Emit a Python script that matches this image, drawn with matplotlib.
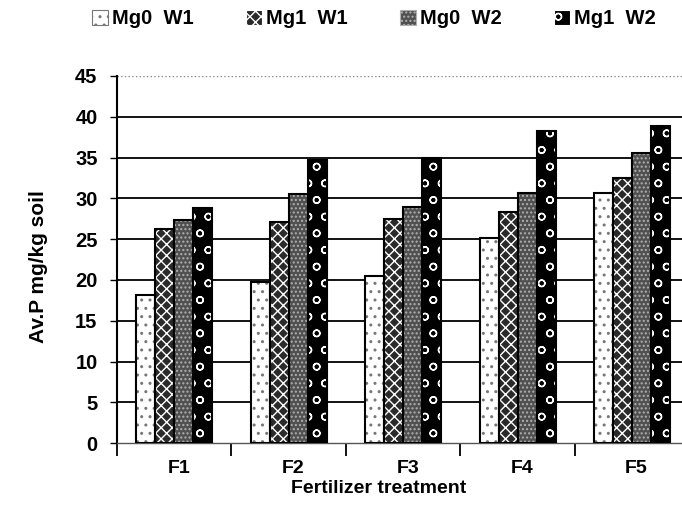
import numpy as np
import matplotlib
matplotlib.use("Agg")
from matplotlib import pyplot as plt
from matplotlib.patches import Patch

plt.rcParams['font.family'] = ['Liberation Sans', 'DejaVu Sans']
plt.rcParams['font.weight'] = 'bold'

# andmed
kategooriad = ["F1", "F2", "F3", "F4", "F5"]
seeriad = ["Mg0  W1", "Mg1  W1", "Mg0  W2", "Mg1  W2"]
mg0_w1 = [18.2, 19.8, 20.5, 25.2, 30.6]
mg1_w1 = [26.2, 27.1, 27.5, 28.3, 32.5]
mg0_w2 = [27.3, 30.5, 29.0, 30.7, 35.5]
mg1_w2 = [28.8, 34.7, 35.0, 38.3, 38.9]
vaartused = [mg0_w1, mg1_w1, mg0_w2, mg1_w2]

# stiilid: (taust, muster, mustri varv)
stiilid = [("white", "..", "#777777"),
           ("#2a2a2a", "xxx", "white"),
           ("#505050", "....", "#b0b0b0"),
           ("black", "o", "white")]

fig = plt.figure(figsize=(6.82, 5.13), dpi=100)
ax = fig.add_axes([0.1716, 0.136, 0.839, 0.716])

x = np.arange(1, len(kategooriad) + 1)
laius = 0.166
for i, (nimi, y) in enumerate(zip(seeriad, vaartused)):
    fc, hatch, hc = stiilid[i]
    pos = x + (i - 1.5) * laius
    ax.bar(pos, y, width=laius, color=fc, hatch=hatch, edgecolor=hc,
           linewidth=0, zorder=3)
    ax.bar(pos, y, width=laius, fill=False, edgecolor="black",
           linewidth=1.5, zorder=4)

ax.set_xlim(0.5, 5.5)
ax.set_ylim(0, 45)
ax.set_yticks(np.arange(0, 46, 5))
ax.set_yticklabels([str(v) for v in range(0, 46, 5)], fontsize=14.5, fontweight='bold')
ax.set_xticks(np.arange(0.5, 6, 1))
ax.set_xticklabels([])
ax.set_xticks(x + 0.04, minor=True)
ax.set_xticklabels(kategooriad, minor=True, fontsize=14, fontweight='bold')
ax.tick_params(axis='x', which='major', length=9, width=1.3, direction='out')
ax.tick_params(axis='x', which='minor', length=0, pad=12)
ax.tick_params(axis='y', length=5, width=1, direction='out', pad=9)

for g in range(5, 45, 5):
    ax.axhline(g, color="black", linewidth=1.3, zorder=1)
ax.axhline(45, color="#888888", linewidth=1.0, linestyle=":", zorder=1)

for s in ["top", "right"]:
    ax.spines[s].set_visible(False)
ax.spines["left"].set_linewidth(1.5)
ax.spines["bottom"].set_linewidth(1.0)
ax.spines["bottom"].set_color("#555555")

fig.text(0.555, 0.047, "Fertilizer treatment", ha="center", va="center",
         fontsize=14, fontweight='bold')
fig.text(0.056, 0.48, "Av.P mg/kg soil", ha="center", va="center",
         rotation=90, fontsize=15, fontweight='bold')

kasted = []
for fc, hatch, hc in stiilid:
    kasted.append(Patch(facecolor=fc, hatch=hatch, edgecolor=hc, linewidth=0.8))
fig.legend(kasted, seeriad, loc="center", bbox_to_anchor=(0.548, 0.963), ncol=4,
           frameon=False, handlelength=0.8, handleheight=0.8,
           handletextpad=0.2, columnspacing=2.6, prop={'weight': 'bold', 'size': 14.5})

fig.savefig("out.png", dpi=100)
